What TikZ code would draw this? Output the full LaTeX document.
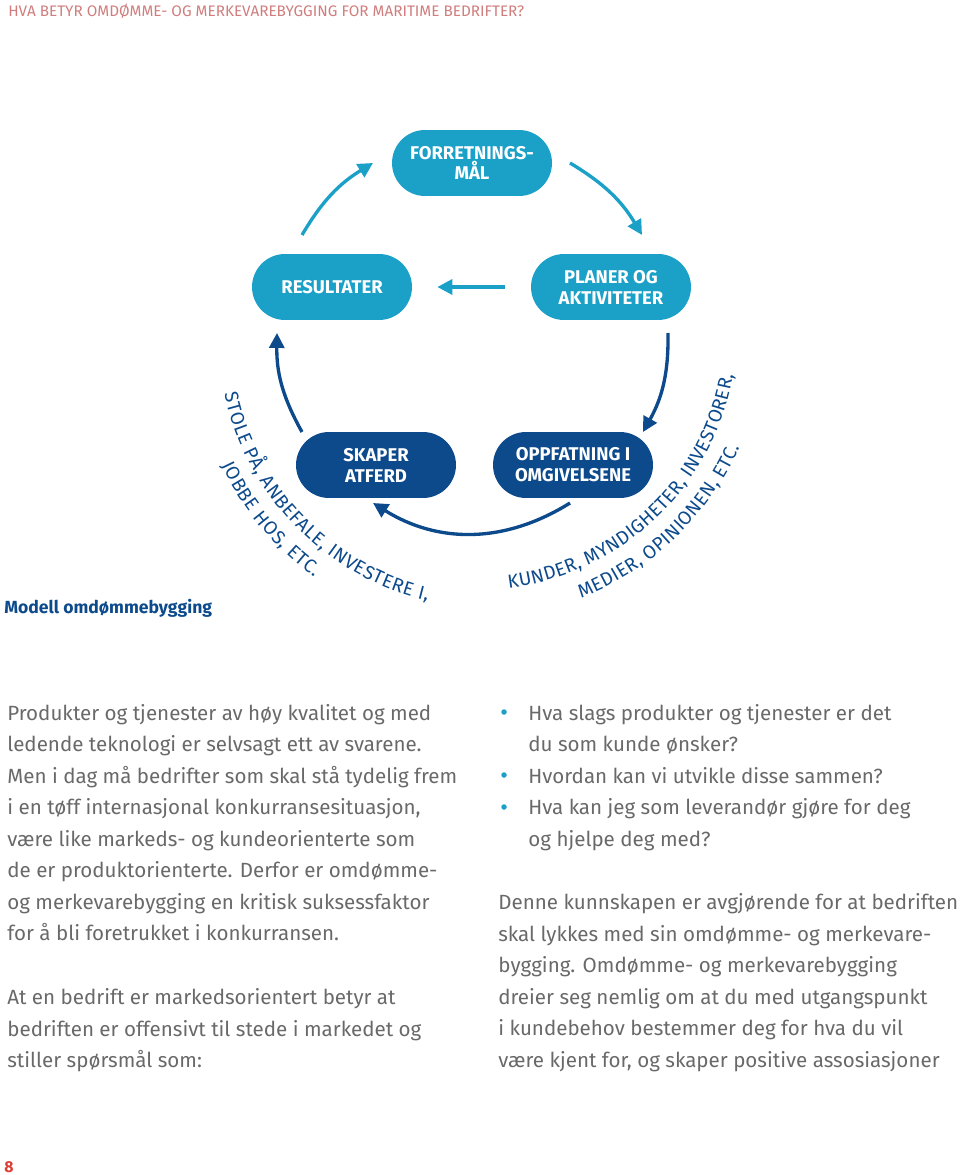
\documentclass[tikz,border=0pt]{standalone}
\usepackage{fontspec}
\setmainfont{Fira Sans}
\usetikzlibrary{arrows.meta,decorations.text,positioning}
\definecolor{lyseblaa}{RGB}{27,160,200}
\definecolor{morkeblaa}{RGB}{12,74,140}
\definecolor{tittelrosa}{RGB}{208,125,125}
\definecolor{broedgraa}{RGB}{105,105,105}
\definecolor{sidetall}{RGB}{220,60,50}
\newcommand{\buetekst}{\fontsize{10.8}{12}\selectfont\color{morkeblaa}}
\tikzset{
    boks/.style={
           rectangle,
           rounded corners=0.66cm,
           minimum width=3.2cm,
           minimum height=1.32cm,
           inner sep=0pt,
           align=center,
           text=white,
           font=\bfseries\fontsize{10.5}{11.9}\selectfont,
           },
    lysboks/.style={boks, fill=lyseblaa},
    morkboks/.style={boks, fill=morkeblaa},
    pil/.style={
           -{Triangle[length=8.5pt,width=8.5pt]},
           line width=1.9pt,
           },
    broed/.style={
           anchor=north west,
           inner sep=0pt,
           align=left,
           text=broedgraa,
           font=\fontsize{11.7}{17.9}\selectfont,
           },
    punkt/.style={
           circle,
           fill=lyseblaa,
           inner sep=0pt,
           minimum size=0.11cm,
           },
    bue/.style={
           decorate,
           decoration={text along path, text align=fit to path, text={#1}},
           }
}

\begin{document}
\begin{tikzpicture}[x=0.02cm,y=0.02cm]
\useasboundingbox (0,0) rectangle (960,-1175);

% overskrift og etiketter
\node[anchor=base west, inner sep=0pt, text=tittelrosa, font=\fontsize{8.7}{10}\selectfont] (tittel) at (8,-17) {HVA BETYR OMDØMME- OG MERKEVAREBYGGING FOR MARITIME BEDRIFTER?};
\node[anchor=base west, inner sep=0pt, text=morkeblaa, font=\bfseries\fontsize{10}{12}\selectfont] (modell) at (4,-613.3) {Modell omdømmebygging};
\node[anchor=base west, inner sep=0pt, text=sidetall, font=\bfseries\fontsize{9}{10}\selectfont] (side) at (4,-1172) {8};

% kretslopet
\node[lysboks] (maal) at (472,-163) {FORRETNINGS-\\MÅL};
\node[lysboks] (res) at (332,-287) {RESULTATER};
\node[lysboks] (plan) at (611,-287) {PLANER OG\\AKTIVITETER};
\node[morkboks] (atferd) at (376,-465) {SKAPER\\ATFERD};
\node[morkboks] (oppf) at (573,-465) {OPPFATNING I\\OMGIVELSENE};

\coordinate (r1) at (302,-235);
\coordinate (m1) at (373,-163);
\coordinate (m2) at (570,-163);
\coordinate (p1) at (642,-235);
\coordinate (p2) at (668,-333);
\coordinate (o1) at (643,-432);
\coordinate (o2) at (570,-503);
\coordinate (a1) at (373,-503);
\coordinate (a2) at (302,-432);
\coordinate (r2) at (277,-333);

\draw[pil, lyseblaa] (r1) to[bend left=14] (m1);
\draw[pil, lyseblaa] (m2) to[bend left=14] (p1);
\draw[pil, lyseblaa, shorten <=0.52cm, shorten >=0.5cm] (plan) -- (res);
\draw[pil, morkeblaa] (p2) to[bend left=15] (o1);
\draw[pil, morkeblaa] (o2) to[bend left=32] (a1);
\draw[pil, morkeblaa] (a2) to[bend left=15] (r2);

% buede tekster
\coordinate (vsenter) at (488,-338);
\coordinate (hsenter) at (477,-330);
\path[bue={|\buetekst|STOLE PÅ, ANBEFALE, INVESTERE I,}] ([shift={(191.9:269.5)}]vsenter) arc[start angle=191.9, end angle=257, radius=269.5];
\path[bue={|\buetekst|JOBBE HOS, ETC.}] ([shift={(205.5:295.5)}]vsenter) arc[start angle=205.5, end angle=234, radius=295.5];
\path[bue={|\buetekst|KUNDER, MYNDIGHETER, INVESTORER,}] ([shift={(-83:260)}]hsenter) arc[start angle=-83, end angle=-10, radius=260];
\path[bue={|\buetekst|MEDIER, OPINIONEN, ETC.}] ([shift={(-68.8:287.5)}]hsenter) arc[start angle=-68.8, end angle=-24, radius=287.5];

% broedtekst
\node[broed] (avsnitt1) at (7,-702.4) {\rule{0pt}{10pt}Produkter og tjenester av høy kvalitet og med\\ledende teknologi er selvsagt ett av svarene.\\Men i dag må bedrifter som skal stå tydelig frem\\i en tøff internasjonal konkurransesituasjon,\\være like markeds- og kundeorienterte som\\de er produktorienterte. Derfor er omdømme-\\og merkevarebygging en kritisk suksessfaktor\\for å bli foretrukket i konkurransen.};
\node[broed] (avsnitt2) at (7,-986.8) {\rule{0pt}{10pt}At en bedrift er markedsorientert betyr at\\bedriften er offensivt til stede i markedet og\\stiller spørsmål som:};
\node[broed] (spm) at (528,-702.4) {\rule{0pt}{10pt}Hva slags produkter og tjenester er det\\du som kunde ønsker?\\Hvordan kan vi utvikle disse sammen?\\Hva kan jeg som leverandør gjøre for deg\\og hjelpe deg med?};
\node[punkt] (b1) at (504,-712) {};
\node[punkt] (b2) at (504,-775) {};
\node[punkt] (b3) at (504,-807) {};
\node[broed] (avsnitt3) at (498,-892) {\rule{0pt}{10pt}Denne kunnskapen er avgjørende for at bedriften\\skal lykkes med sin omdømme- og merkevare-\\bygging. Omdømme- og merkevarebygging\\dreier seg nemlig om at du med utgangspunkt\\i kundebehov bestemmer deg for hva du vil\\være kjent for, og skaper positive assosiasjoner};
\end{tikzpicture}
\end{document}
